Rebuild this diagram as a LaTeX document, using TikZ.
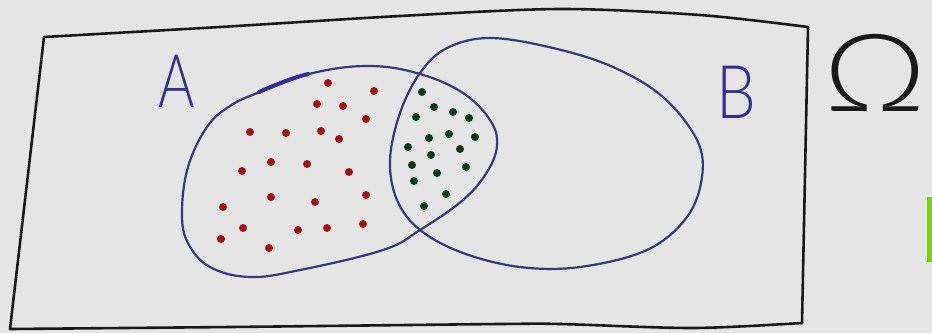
\documentclass[tikz,border=0pt]{standalone}
\usepackage{fontspec}
\newfontfamily\handfont{Lato Light}
\definecolor{bgc}{RGB}{229,229,229}
\definecolor{setblue}{RGB}{58,56,125}
\definecolor{lblblue}{RGB}{52,45,150}
\definecolor{dotred}{RGB}{165,15,20}
\definecolor{dotgreen}{RGB}{15,55,30}
\definecolor{framec}{RGB}{25,25,25}
\definecolor{barc}{RGB}{125,205,25}
\tikzset{
  frameline/.style={draw=framec, line width=2.6pt, line join=round, line cap=round},
  setline/.style={draw=setblue, line width=2.2pt},
  reddot/.style={circle, fill=dotred, inner sep=0pt, minimum size=8pt},
  greendot/.style={circle, fill=dotgreen, inner sep=0pt, minimum size=8pt},
  lbl/.style={text=lblblue, inner sep=0pt, font=\handfont\fontsize{74}{74}\selectfont},
}
\begin{document}
\begin{tikzpicture}[x=1pt,y=-1pt]
\useasboundingbox (0,0) rectangle (932,333);
\fill[bgc] (0,0) rectangle (932,333);
% frame (sample space)
\draw[frameline] plot[smooth, tension=0.5] coordinates {(44,37) (220,27) (400,16) (560,9) (700,15) (808,27)} -- (802,323);
\draw[frameline] plot[smooth, tension=0.5] coordinates {(802,323) (693,328) (560,324) (500,324) (230,327) (10,329)} -- (44,37);
% set A
\draw[setline] plot[smooth cycle, tension=0.65] coordinates {(182,213) (188,167) (207,127) (230,106) (260,92) (313,73) (370,66) (420,74) (463,93) (490,120) (497,145) (487,172) (463,200) (420,230) (383,250) (300,270) (250,277) (210,267) (188,243)};
\draw[setline, line width=4pt, draw=lblblue, line cap=round] (259,92) .. controls (275,85) and (292,78) .. (308,74);
% set B
\draw[setline] plot[smooth cycle, tension=0.6] coordinates {(490,38) (553,48) (613,67) (663,97) (697,140) (702,177) (687,217) (647,250) (580,267) (520,267) (463,253) (420,230) (397,200) (390,160) (400,113) (420,73) (447,48)};
% red dots
\foreach \p [count=\i] in {(328,83),(374,91),(317,104),(343,106),(366,119),(250,132),(286,133),(321,131),(339,139),(242,171),(271,162),(307,164),(349,172),(223,207),(271,197),(315,202),(366,195),(243,228),(221,239),(298,230),(327,228),(363,224),(269,248)}
  \node[reddot] (r\i) at \p {};
% green dots
\foreach \p [count=\i] in {(422,92),(434,107),(453,112),(469,118),(416,117),(449,134),(475,137),(429,138),(408,147),(460,149),(431,155),(412,165),(466,167),(437,173),(414,181),(446,194),(424,206)}
  \node[greendot] (g\i) at \p {};
% labels
\node[lbl, xscale=0.75] (labA) at (177,81) {A};
\node[lbl, xscale=0.85] (labB) at (736,92) {B};
\node[lbl, text=framec, xscale=1.2, font=\handfont\fontsize{108}{108}\selectfont] (omega) at (875,73) {Ω};
% green mark at right edge
\fill[barc] (927,197) rectangle (934,262);
\end{tikzpicture}
\end{document}
